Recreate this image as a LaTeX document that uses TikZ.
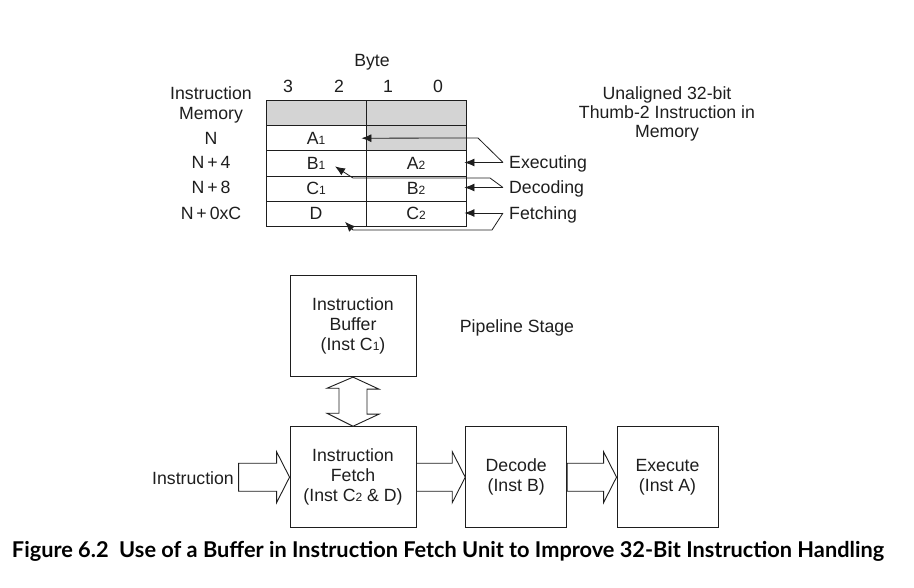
\documentclass[tikz,border=0pt]{standalone}
\usepackage{fontspec}
\setmainfont{Liberation Sans}
\newfontfamily\capfont{Lato}
\usetikzlibrary{calc,arrows.meta}
\newcommand{\sbs}[1]{{\fontsize{12}{12}\selectfont #1}}
\definecolor{ink}{HTML}{1E1E1E}
\definecolor{shade}{HTML}{D4D4D4}
\tikzset{
  txt/.style={inner sep=1pt, text=ink, font=\fontsize{17.7}{20}\selectfont},
  cell/.style={draw=ink, line width=0.9pt, minimum width=100pt, minimum height=25.2pt, inner sep=0pt, text=ink, font=\fontsize{17.7}{20}\selectfont},
  gcell/.style={cell, fill=shade},
  box/.style={draw=ink, line width=0.9pt, inner sep=0pt, align=center, text=ink, font=\fontsize{17.7}{20}\selectfont},
  arr/.style={draw=ink, line width=0.8pt, -{Latex[length=10pt,width=8pt]}},
  blk/.style={draw=ink, line width=0.9pt, fill=white, line join=miter}
}
\begin{document}
\begin{tikzpicture}[x=1pt,y=-1pt]
\useasboundingbox (0,0) rectangle (914,588);
% memory table
\node[gcell] (g0l) at (316,113) {};
\node[gcell] (g0r) at (416,113) {};
\node[cell] (a1) at (316,138.2) {A\sbs{1}};
\node[gcell] (g1r) at (416,138.2) {};
\node[cell] (b1) at (316,163.4) {B\sbs{1}};
\node[cell] (a2) at (416,163.4) {A\sbs{2}};
\node[cell] (c1) at (316,188.6) {C\sbs{1}};
\node[cell] (b2) at (416,188.6) {B\sbs{2}};
\node[cell] (d) at (316,213.8) {D};
\node[cell] (c2) at (416,213.8) {C\sbs{2}};
% headings
\node[txt] (byte) at (372,62) {Byte};
\node[txt] (b3) at (288,86) {3};
\node[txt] (b2l) at (339,86) {2};
\node[txt] (b1l) at (388,86) {1};
\node[txt] (b0l) at (438,86) {0};
\node[txt, align=center] (im) at (211,105) {Instruction\\Memory};
\node[txt] (rn) at (211,138) {N};
\node[txt] (rn4) at (211,162) {N\,+\,4};
\node[txt] (rn8) at (211,187) {N\,+\,8};
\node[txt] (rnc) at (211,213) {N\,+\,0xC};
\node[txt, align=center, font=\fontsize{17.7}{19}\selectfont] (ua) at (667,114) {Unaligned 32-bit\\Thumb-2 Instruction in\\Memory};
% state labels
\node[txt, anchor=west] (exe) at (508,163.5) {Executing};
\node[txt, anchor=west] (dec) at (508,188.5) {Decoding};
\node[txt, anchor=west] (fet) at (508,214.5) {Fetching};
\coordinate (exeP) at (503,162.5);
\coordinate (decP) at (503,187.5);
\coordinate (fetP) at (503,213);
% connectors
\draw[arr] (exeP) -- (478,138) -- ([xshift=-5pt]a1.east);
\draw[arr] (exeP) -- ([xshift=-2pt]a2.east |- exeP);
\draw[arr] (decP) -- (490,178) -- (353,178) -- ($(b1.center)+(19,3)$);
\draw[arr] (decP) -- ([xshift=-2pt]b2.east |- decP);
\draw[arr] (fetP) -- ([xshift=-2pt]c2.east |- fetP);
\draw[arr] (fetP) -- (492,230) -- (353,230) -- ($(d.center)+(29,8)$);
% pipeline
\node[box, minimum width=126pt, minimum height=101pt] (buf) at (353,326.2) {Instruction\\Buffer\\(Inst C\sbs{1})};
\node[txt] (ps) at (517,328) {Pipeline Stage};
\node[box, minimum width=126pt, minimum height=101pt] (fetch) at (353,477.2) {Instruction\\Fetch\\(Inst C\sbs{2} \& D)};
\node[box, minimum width=101pt, minimum height=101pt] (decode) at (516.2,477.2) {Decode\\(Inst B)};
\node[box, minimum width=101pt, minimum height=101pt] (exec) at (667.5,477.2) {Execute\\(Inst A)};
\node[txt, anchor=east] (instr) at (235,478) {Instruction};
% double arrow
\draw[blk] (buf.south) -- ++(26,12) -- ++(-12,0) -- ++(0,25) -- ++(12,0) -- (fetch.north) -- ++(-26,-13) -- ++(12,0) -- ++(0,-25) -- ++(-12,0) -- cycle;
% block arrows
\draw[blk] (fetch.west) -- ++(-13,-25.5) -- ++(0,11.5) -- ++(-38,0) -- ++(0,28) -- ++(38,0) -- ++(0,11.5) -- cycle;
\draw[blk] (decode.west) -- ++(-13,-25.5) -- ++(0,11.5) -- ($(fetch.east)+(0,-14)$) -- ($(fetch.east)+(0,14)$) -- ($(decode.west)+(-13,14)$) -- ++(0,11.5) -- cycle;
\draw[blk] (exec.west) -- ++(-13,-25.5) -- ++(0,11.5) -- ($(decode.east)+(0,-14)$) -- ($(decode.east)+(0,14)$) -- ($(exec.west)+(-13,14)$) -- ++(0,11.5) -- cycle;
% caption
\node[inner sep=0pt, text=black] (cap) at (448,551) {\resizebox{872pt}{!}{\capfont\bfseries Figure 6.2\ \ Use of a Buffer in Instruction Fetch Unit to Improve 32-Bit Instruction Handling}};
\end{tikzpicture}
\end{document}
